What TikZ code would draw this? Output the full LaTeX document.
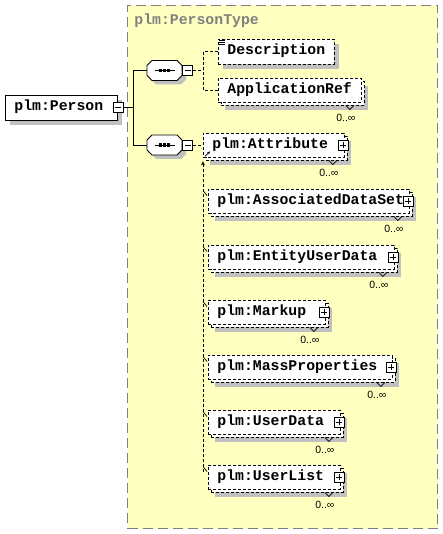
\documentclass[tikz,border=0pt]{standalone}
\usepackage{fontspec}
\setmonofont{Liberation Mono}
\setsansfont{Liberation Sans}
\usetikzlibrary{positioning,shadows,arrows.meta}

\definecolor{typefill}{RGB}{255,255,192}
\definecolor{typeline}{RGB}{128,128,128}
\definecolor{shadowgray}{RGB}{192,192,192}

\newcommand{\elemfont}{\ttfamily\bfseries\fontsize{14.8}{16}\selectfont}
\newcommand{\cardfont}{\sffamily\fontsize{10.5}{12}\selectfont}

\tikzset{
  optline/.style={dash pattern=on 3pt off 2pt},
  elembox/.style={draw, fill=white, font=\elemfont, align=left, anchor=west,
    inner xsep=9pt, inner ysep=0pt, text height=10pt, text depth=3pt},
  single/.style={elembox, minimum height=25pt,
    drop shadow={shadow xshift=5pt, shadow yshift=-5pt, fill=shadowgray, opacity=1}},
  multi/.style={elembox, optline, minimum height=24pt,
    drop shadow={shadow xshift=7pt, shadow yshift=-8pt, fill=shadowgray, opacity=1},
    copy shadow={shadow xshift=3pt, shadow yshift=-3pt, draw, optline, fill=white}},
  seqbox/.style={rectangle, minimum width=35pt, minimum height=20pt, inner sep=0pt},
  octagon/.style={insert path={
    ([xshift=-12.5pt,yshift=10pt]#1) -- ([xshift=12.5pt,yshift=10pt]#1)
    -- ([xshift=17.5pt,yshift=5pt]#1) -- ([xshift=17.5pt,yshift=-5pt]#1)
    -- ([xshift=12.5pt,yshift=-10pt]#1) -- ([xshift=-12.5pt,yshift=-10pt]#1)
    -- ([xshift=-17.5pt,yshift=-5pt]#1) -- ([xshift=-17.5pt,yshift=5pt]#1) -- cycle}},
  minusbox/.style={draw, solid, fill=white, minimum size=10pt, inner sep=0pt,
    line width=0.8pt,
    path picture={\draw ([xshift=2pt]path picture bounding box.west)
      -- ([xshift=-2pt]path picture bounding box.east);}},
  plusbox/.style={draw, solid, fill=white, minimum size=10pt, inner sep=0pt,
    line width=0.8pt,
    path picture={\draw ([xshift=2pt]path picture bounding box.west)
      -- ([xshift=-2pt]path picture bounding box.east);
      \draw ([yshift=2pt]path picture bounding box.south)
      -- ([yshift=-2pt]path picture bounding box.north);}},
  typebox/.style={anchor=north west, fill=typefill, draw=typeline,
    dash pattern=on 10pt off 5pt, line width=1pt},
  typetitle/.style={anchor=base west, inner sep=0pt, font=\elemfont, text=typeline},
  cardlabel/.style={font=\cardfont, inner sep=0pt, anchor=north east}
}

\begin{document}
\begin{tikzpicture}[x=1pt, y=-1pt, line width=0.9pt]
  \useasboundingbox (0,0) rectangle (443,534);

  % complex type area
  \node[typebox, minimum width=310pt, minimum height=523pt] (ptype) at (127,5) {};
  \node[typetitle] (ptype-name) at (134,24.5) {plm:PersonType};

  % root element
  \node[single, text width=94pt] (person) at (5,107.5) {plm:Person};
  \node[minusbox] (person-m) at (person.east) {};

  % sequences
  \node[seqbox] (seq1) at (164.5,70.5) {};
  \node[seqbox] (seq2) at (164.5,145) {};
  \foreach \s in {seq1,seq2} {
    \coordinate (\s-sh) at ([xshift=4pt,yshift=-4pt]\s.center);
    \fill[shadowgray, octagon=\s-sh];
    \draw[fill=white, octagon=\s.center];
    \draw ([xshift=-10pt]\s.center) -- ([xshift=10pt]\s.center);
    \foreach \dx in {-4,0,4}
      \fill ([xshift=\dx pt-1.6pt,yshift=-1.6pt]\s.center) rectangle ++(3.2,-3.2);
  }
  \node[minusbox, right=0pt of seq1] (seq1-m) {};
  \node[minusbox, right=0pt of seq2] (seq2-m) {};

  % children
  \node[single, optline, text width=98pt] (desc) at (218,51.5) {Description};
  \node[multi, text width=125pt] (appref) at (218,90) {ApplicationRef};
  \node[multi, text width=123pt] (attr) at (203,145) {plm:Attribute};
  \node[multi, text width=183pt] (ads) at (208,201) {plm:AssociatedDataSet};
  \node[multi, text width=168pt] (eud) at (208,257) {plm:EntityUserData};
  \node[multi, text width=99pt] (markup) at (208,312) {plm:Markup};
  \node[multi, text width=166pt] (mass) at (208,367) {plm:MassProperties};
  \node[multi, text width=114pt] (udata) at (208,422) {plm:UserData};
  \node[multi, text width=114pt] (ulist) at (208,477) {plm:UserList};

  % icon of Description
  \foreach \d in {2,4,6}
    \draw[line width=0.6pt] ([xshift=1pt,yshift=-\d pt]desc.north west) -- ++(6,0);

  % occurrences
  \foreach \n in {appref,attr,ads,eud,markup,mass,udata,ulist} {
    \draw[line width=0.7pt] ([xshift=-16pt,yshift=-3pt]\n.south east)
      -- ++(4,4) -- ++(4,-4);
    \node[cardlabel] (\n-card) at ([xshift=-6pt,yshift=-11pt]\n.south east) {0..∞};
  }
  \foreach \n in {attr,ads,eud,markup,mass,udata,ulist}
    \node[plusbox] (\n-p) at ([xshift=-2pt]\n.east) {};

  % connectors
  \coordinate (branch) at ([xshift=10pt]person-m.east);
  \draw (person-m.east) -- (branch);
  \draw (seq1.west) -| (branch) |- (seq2.west);

  \coordinate (fork1) at ([xshift=10pt]seq1-m.east);
  \draw[optline] (seq1-m.east) -- (fork1);
  \draw[optline] (desc.west) -| (fork1) |- (appref.west);
  \draw[optline] (seq2-m.east) -- (attr.west);

  % substitution line
  \coordinate (subst-end) at (203,472);
  \draw[optline, -{Stealth[length=4pt,width=4pt]}] (subst-end) -- ([yshift=-4pt]attr.south west);
  \draw[line width=0.7pt, -{Stealth[length=3pt,width=3pt]}]
    ([xshift=2pt,yshift=1pt]attr.south west) -- ([xshift=7pt,yshift=6pt]attr.south west);
  \foreach \n in {ads,eud,markup,mass,udata,ulist}
    \draw[line width=0.7pt] ([xshift=-5pt,yshift=-2pt]\n.north west)
      -- ([xshift=-1pt,yshift=-7pt]\n.north west);
\end{tikzpicture}
\end{document}
